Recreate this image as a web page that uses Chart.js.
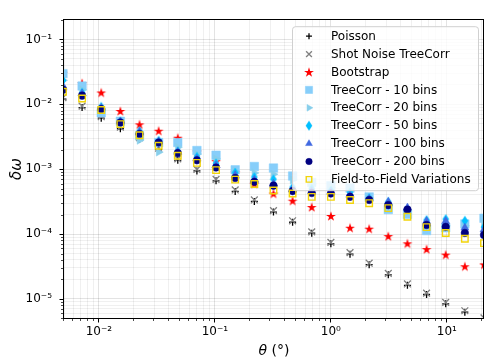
<!DOCTYPE html>
<html>
<head>
<meta charset="utf-8">
<script src="https://cdn.jsdelivr.net/npm/chart.js@4.4.1/dist/chart.umd.min.js"></script>
<style>
  html, body { margin: 0; padding: 0; background: #fff; }
</style>
</head>
<body>
<canvas id="chart" width="491" height="364"></canvas>
<script>
// angular separation (deg)
const theta = [0.0049, 0.00716, 0.01047, 0.01531, 0.02239, 0.03273, 0.04786, 0.06998, 0.1023, 0.1496, 0.2188, 0.3199,
               0.4677, 0.6839, 1.0, 1.462, 2.138, 3.126, 4.571, 6.683, 9.772, 14.29, 20.89];

const poisson = [1.20e-2, 8.9e-3, 6.1e-3, 4.2e-3, 2.9e-3, 2.0e-3, 1.37e-3, 9.4e-4, 6.6e-4, 4.54e-4, 3.18e-4, 2.18e-4,
                 1.52e-4, 1.03e-4, 7.06e-5, 4.9e-5, 3.37e-5, 2.35e-5, 1.62e-5, 1.17e-5, 8.4e-6, 6.25e-6, 4.85e-6];
const shotNoise = [1.27e-2, 9.36e-3, 6.44e-3, 4.43e-3, 3.05e-3, 2.10e-3, 1.44e-3, 9.93e-4, 6.95e-4, 4.78e-4, 3.35e-4, 2.30e-4,
                   1.60e-4, 1.08e-4, 7.43e-5, 5.16e-5, 3.55e-5, 2.47e-5, 1.70e-5, 1.23e-5, 8.83e-6, 6.57e-6, 5.10e-6];
const bootstrap = [3.07e-2, 2.12e-2, 1.52e-2, 7.89e-3, 4.91e-3, 3.91e-3, 3.05e-3, 1.88e-3, 1.33e-3, 8.97e-4, 5.97e-4, 4.21e-4,
                   3.27e-4, 2.61e-4, 1.90e-4, 1.25e-4, 1.21e-4, 9.30e-5, 7.18e-5, 5.86e-5, 4.82e-5, 3.18e-5, 3.40e-5];
const tc10 = [2.97e-2, 1.91e-2, 7.38e-3, 5.48e-3, 3.27e-3, 2.57e-3, 2.57e-3, 1.94e-3, 1.64e-3, 9.77e-4, 1.10e-3, 1.04e-3,
              7.83e-4, 6.24e-4, 5.57e-4, 5.12e-4, 3.74e-4, 2.38e-4, 2.01e-4, 1.13e-4, 1.25e-4, 1.43e-4, 1.75e-4];
const tc20 = [2.34e-2, 1.67e-2, 7.89e-3, 4.91e-3, 2.78e-3, 1.83e-3, 2.17e-3, 1.71e-3, 1.44e-3, 9.29e-4, 8.75e-4, 8.38e-4,
              6.84e-4, 5.97e-4, 5.21e-4, 4.70e-4, 3.58e-4, 2.82e-4, 2.23e-4, 1.34e-4, 1.34e-4, 1.34e-4, 1.43e-4];
const tc50 = [2.34e-2, 1.51e-2, 9.14e-3, 5.43e-3, 3.86e-3, 2.75e-3, 1.89e-3, 1.55e-3, 1.23e-3, 8.87e-4, 7.57e-4, 7.00e-4,
              5.26e-4, 4.98e-4, 4.70e-4, 4.40e-4, 3.58e-4, 3.13e-4, 2.38e-4, 1.64e-4, 1.70e-4, 1.60e-4, 1.28e-4];
const tc100 = [1.91e-2, 1.46e-2, 8.75e-3, 5.43e-3, 3.74e-3, 2.66e-3, 1.83e-3, 1.44e-3, 1.14e-3, 8.09e-4, 6.84e-4, 5.97e-4,
               4.86e-4, 4.55e-4, 4.40e-4, 3.97e-4, 3.47e-4, 3.13e-4, 2.55e-4, 1.58e-4, 1.58e-4, 1.25e-4, 1.17e-4];
const tc200 = [1.67e-2, 1.36e-2, 8.45e-3, 5.25e-3, 3.49e-3, 2.57e-3, 1.77e-3, 1.37e-3, 1.06e-3, 7.31e-4, 6.38e-4, 5.57e-4,
               4.59e-4, 4.29e-4, 4.21e-4, 3.74e-4, 3.35e-4, 2.79e-4, 2.38e-4, 1.38e-4, 1.29e-4, 1.04e-4, 9.68e-5];
const fieldToField = [1.56e-2, 1.23e-2, 8.17e-3, 4.95e-3, 3.34e-3, 2.30e-3, 1.61e-3, 1.25e-3, 9.66e-4, 6.90e-4, 5.90e-4, 4.70e-4,
                      4.21e-4, 3.74e-4, 3.74e-4, 3.35e-4, 2.99e-4, 2.51e-4, 1.85e-4, 1.28e-4, 1.04e-4, 8.45e-5, 7.25e-5];

const xTickValues = [0.01, 0.1, 1, 10];
const xTickLabels = ["10⁻²", "10⁻¹", "10⁰", "10¹"];
const yTickValues = [1e-5, 1e-4, 1e-3, 1e-2, 1e-1];
const yTickLabels = ["10⁻⁵", "10⁻⁴", "10⁻³", "10⁻²", "10⁻¹"];

const X_MIN = 0.005, X_MAX = 20.9;
const Y_MIN = 4.9e-6, Y_MAX = 0.205;

/* ---------- marker images ---------- */
function makeStar(color) {
    const c = document.createElement("canvas");
    c.width = 12; c.height = 12;
    const g = c.getContext("2d");
    const R = 5.2, r = R * 0.38;
    g.beginPath();
    for (let i = 0; i < 10; i++) {
        const rad = (i % 2 === 0) ? R : r;
        const a = -Math.PI / 2 + i * Math.PI / 5;
        const px = 6 + rad * Math.cos(a), py = 6.5 + rad * Math.sin(a);
        if (i === 0) g.moveTo(px, py); else g.lineTo(px, py);
    }
    g.closePath();
    g.fillStyle = color;
    g.fill();
    return c;
}

function makeThinDiamond(color) {
    const c = document.createElement("canvas");
    c.width = 8; c.height = 11;
    const g = c.getContext("2d");
    g.beginPath();
    g.moveTo(4, 0.5);
    g.lineTo(7.3, 5.5);
    g.lineTo(4, 10.5);
    g.lineTo(0.7, 5.5);
    g.closePath();
    g.fillStyle = color;
    g.fill();
    return c;
}

function pts(ys) {
    return ys.map((v, i) => ({x: theta[i], y: v}));
}

const styles = [
    {label: "Poisson", data: poisson, pointStyle: "cross", radius: 3.5, color: "#000000", fill: "#000000", bw: 1.3},
    {label: "Shot Noise TreeCorr", data: shotNoise, pointStyle: "crossRot", radius: 4.8, color: "#808080", fill: "#808080", bw: 1.3},
    {label: "Bootstrap", data: bootstrap, pointStyle: makeStar("#ff0000"), radius: 5, color: "#ff0000", fill: "#ff0000", bw: 0},
    {label: "TreeCorr - 10 bins", data: tc10, pointStyle: "rect", radius: 6, color: "#87cefa", fill: "#87cefa", bw: 0.5},
    {label: "TreeCorr - 20 bins", data: tc20, pointStyle: "triangle", rotation: 90, radius: 4.6, color: "#87ceeb", fill: "#87ceeb", bw: 0.5},
    {label: "TreeCorr - 50 bins", data: tc50, pointStyle: makeThinDiamond("#00bfff"), radius: 5, color: "#00bfff", fill: "#00bfff", bw: 0},
    {label: "TreeCorr - 100 bins", data: tc100, pointStyle: "triangle", radius: 4.6, color: "#4169e1", fill: "#4169e1", bw: 0.5},
    {label: "TreeCorr - 200 bins", data: tc200, pointStyle: "circle", radius: 3.8, color: "#000080", fill: "#000080", bw: 0.5},
    {label: "Field-to-Field Variations", data: fieldToField, pointStyle: "rect", radius: 4.6, color: "#f2d40a", fill: "rgba(0,0,0,0)", bw: 1.4}
];

const datasets = styles.map((s, i) => ({
    label: s.label,
    data: pts(s.data),
    showLine: false,
    pointStyle: s.pointStyle,
    rotation: s.rotation || 0,
    pointRadius: s.radius,
    pointBorderWidth: s.bw,
    pointBorderColor: s.color,
    pointBackgroundColor: s.fill,
    order: styles.length - i,
    clip: 0
}));

/* ---------- log ticks 1..9 x 10^n ---------- */
function logTicks(min, max) {
    const out = [];
    for (let e = Math.floor(Math.log10(min)); e <= Math.ceil(Math.log10(max)); e++) {
        for (let m = 1; m <= 9; m++) {
            const v = m * Math.pow(10, e);
            if (v >= min && v <= max) out.push({value: v, major: m === 1});
        }
    }
    return out;
}

function labelFor(values, labels, v) {
    for (let i = 0; i < values.length; i++) {
        if (Math.abs(values[i] - v) / values[i] < 1e-6) return labels[i];
    }
    return "";
}

const gridColor = (ctx) => (ctx.tick && ctx.tick.major) ? "rgba(0,0,0,0.11)" : "rgba(0,0,0,0.06)";

/* ---------- extra drawing: frame, tick marks, legend, titles ---------- */
const decor = {
    id: "decor",
    beforeDraw(chart) {
        const ctx = chart.ctx;
        ctx.save();
        ctx.fillStyle = "#ffffff";
        ctx.fillRect(0, 0, chart.width, chart.height);
        ctx.restore();
    },
    afterDatasetsDraw(chart) {
        const {ctx, chartArea: a, scales} = chart;
        const L = Math.round(a.left) - 0.5, R = Math.round(a.right) - 0.5;
        const T = Math.round(a.top) + 0.5, B = Math.round(a.bottom) - 0.5;
        ctx.save();
        ctx.strokeStyle = "#000";

        // tick marks
        scales.x.ticks.forEach(t => {
            const px = Math.round(scales.x.getPixelForValue(t.value)) - 0.5;
            ctx.lineWidth = t.major ? 1 : 0.7;
            ctx.beginPath();
            ctx.moveTo(px, B);
            ctx.lineTo(px, B + (t.major ? 4 : 2.5));
            ctx.stroke();
        });
        scales.y.ticks.forEach(t => {
            const py = Math.round(scales.y.getPixelForValue(t.value)) + 0.5;
            ctx.lineWidth = t.major ? 1 : 0.7;
            ctx.beginPath();
            ctx.moveTo(L, py);
            ctx.lineTo(L - (t.major ? 4 : 2.5), py);
            ctx.stroke();
        });

        // frame
        ctx.lineWidth = 1;
        ctx.strokeRect(L, T, R - L, B - T);

        // legend
        const lx = a.right - 192, ly = a.top + 7, lw = 186, lh = 164;
        ctx.beginPath();
        ctx.roundRect(lx + 0.5, ly + 0.5, lw, lh, 3);
        ctx.fillStyle = "rgba(255,255,255,0.8)";
        ctx.fill();
        ctx.strokeStyle = "#d0d0d0";
        ctx.lineWidth = 1;
        ctx.stroke();

        ctx.font = "12px 'DejaVu Sans'";
        ctx.textBaseline = "middle";
        ctx.textAlign = "left";
        styles.forEach((s, i) => {
            const cy = ly + 10 + i * 17.9;
            const mx = lx + 17;
            ctx.fillStyle = s.fill;
            ctx.strokeStyle = s.color;
            ctx.lineWidth = s.bw;
            Chart.helpers.drawPoint(ctx, {
                pointStyle: s.pointStyle, rotation: s.rotation || 0,
                radius: s.radius * 0.85, borderWidth: s.bw
            }, mx, cy);
            ctx.fillStyle = "#000";
            ctx.fillText(s.label, lx + 39, cy + 0.5);
        });

        // axis titles
        ctx.fillStyle = "#000";
        ctx.textBaseline = "alphabetic";
        const xt1 = "θ", xt2 = " (°)";
        ctx.font = "italic 14px 'DejaVu Sans'";
        const w1 = ctx.measureText(xt1).width;
        ctx.font = "14px 'DejaVu Sans'";
        const w2 = ctx.measureText(xt2).width;
        const xc = (a.left + a.right) / 2;
        let x0 = xc - (w1 + w2) / 2;
        ctx.font = "italic 14px 'DejaVu Sans'";
        ctx.fillText(xt1, x0, 355);
        ctx.font = "14px 'DejaVu Sans'";
        ctx.fillText(xt2, x0 + w1, 355);

        ctx.translate(21, (a.top + a.bottom) / 2);
        ctx.rotate(-Math.PI / 2);
        ctx.font = "italic 15px 'DejaVu Sans'";
        ctx.textAlign = "center";
        ctx.fillText("δω", 0, 0);
        ctx.restore();
    }
};

new Chart(document.getElementById("chart"), {
    type: "scatter",
    data: {datasets: datasets},
    options: {
        responsive: false,
        animation: false,
        events: [],
        layout: {padding: {top: 6, right: 7, left: 0, bottom: 0}},
        plugins: {legend: {display: false}, tooltip: {enabled: false}},
        font: {family: "'DejaVu Sans'"},
        scales: {
            x: {
                type: "logarithmic",
                min: X_MIN, max: X_MAX,
                afterBuildTicks: (axis) => { axis.ticks = logTicks(X_MIN, X_MAX); },
                afterFit: (axis) => { axis.height = 45; },
                grid: {color: gridColor, drawTicks: false},
                border: {display: false},
                ticks: {
                    autoSkip: false, maxRotation: 0, padding: 6,
                    color: "#000", font: {family: "'DejaVu Sans'", size: 12},
                    callback: (v) => labelFor(xTickValues, xTickLabels, v)
                }
            },
            y: {
                type: "logarithmic",
                min: Y_MIN, max: Y_MAX,
                afterBuildTicks: (axis) => { axis.ticks = logTicks(Y_MIN, Y_MAX); },
                afterFit: (axis) => { axis.width = 64; },
                grid: {color: gridColor, drawTicks: false},
                border: {display: false},
                ticks: {
                    autoSkip: false, padding: 12,
                    color: "#000", font: {family: "'DejaVu Sans'", size: 12},
                    callback: (v) => labelFor(yTickValues, yTickLabels, v)
                }
            }
        }
    },
    plugins: [decor]
});
</script>
</body>
</html>
